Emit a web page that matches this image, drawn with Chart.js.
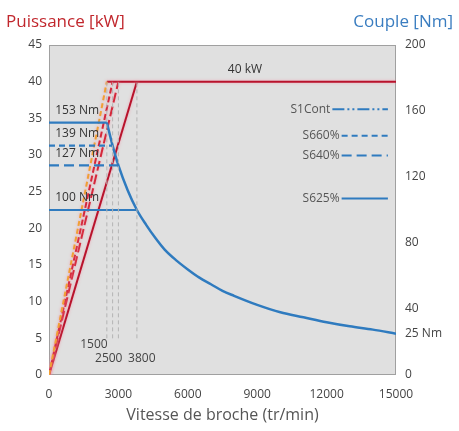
<!DOCTYPE html>
<html>
<head>
<meta charset="utf-8">
<script src="https://cdn.jsdelivr.net/npm/chart.js@4.4.1/dist/chart.umd.min.js"></script>
<style>
  body { margin: 0; background: #fff; }
  #wrap { width: 459px; height: 431px; }
</style>
</head>
<body>
<div id="wrap"><canvas id="courbe" width="459" height="431"></canvas></div>
<script>
// vitesses de base (tr/min) et couples (Nm) des différents services
const baseRpm = [2500, 2750, 3000, 3800];
const baseTorque = [153, 139, 127, 100];
const maxPower = 40;

// courbe à puissance constante
const hyperRpm = [2500, 2750, 3000, 3400, 3800, 4200, 4600, 5000, 5500, 6000, 6500, 7000, 7500, 8000, 9000, 10000, 11000, 12000, 13000, 14000, 15000];
const hyperTorque = [153, 139, 127, 112, 100, 91, 83, 76, 69.5, 64, 59, 55, 51, 48, 42.5, 38, 35, 32, 29.5, 27.5, 25];

const xTicks = [0, 3000, 6000, 9000, 12000, 15000];
const powerTicks = [0, 5, 10, 15, 20, 25, 30, 35, 40, 45];
const torqueTicks = [0, 40, 80, 120, 160, 200];

const legendNames = ['S1Cont', 'S660%', 'S640%', 'S625%'];
const legendTorque = [161, 145, 133, 107];

const BLUE = '#2f7bbf';
const RED = '#b8132c';
const FONT = '"Open Sans", "Noto Sans", sans-serif';

const torqueDash = [[], [6, 4], [10, 5], []];
const powerStyle = [
    { color: '#f0a035', dash: [5, 3] },
    { color: '#d4283b', dash: [6, 3] },
    { color: '#d4283b', dash: [10, 4] },
    { color: RED, dash: [] }
];
const legendDash = [[12, 3, 2, 3, 2, 3], [6, 4], [10, 5], []];

const datasets = [];

// lignes verticales grises
baseRpm.forEach(r => {
    datasets.push({
        data: [{ x: r, y: 5 }, { x: r, y: maxPower }],
        yAxisID: 'y', borderColor: '#b4b4b4', borderWidth: 1, borderDash: [4, 3],
        pointRadius: 0
    });
});

// couples (axe droit)
baseRpm.forEach((r, i) => {
    datasets.push({
        data: [{ x: 0, y: baseTorque[i] }, { x: r, y: baseTorque[i] }],
        yAxisID: 'y1', borderColor: BLUE, borderWidth: 2.2, borderDash: torqueDash[i],
        pointRadius: 0
    });
});
datasets.push({
    data: hyperRpm.map((r, i) => ({ x: r, y: hyperTorque[i] })),
    yAxisID: 'y1', borderColor: BLUE, borderWidth: 2.5, cubicInterpolationMode: 'monotone',
    pointRadius: 0
});

// puissances (axe gauche)
baseRpm.forEach((r, i) => {
    datasets.push({
        data: [{ x: 0, y: 0 }, { x: r, y: maxPower }],
        yAxisID: 'y', borderColor: powerStyle[i].color, borderWidth: 2, borderDash: powerStyle[i].dash,
        pointRadius: 0, glow: 'rgba(245,140,160,0.7)'
    });
});
datasets.push({
    data: [{ x: baseRpm[0], y: maxPower }, { x: 15000, y: maxPower }],
    yAxisID: 'y', borderColor: RED, borderWidth: 2, pointRadius: 0, glow: 'rgba(245,140,160,0.7)'
});

const glowPlugin = {
    id: 'glow',
    beforeDatasetDraw(chart, args) {
        const ds = chart.data.datasets[args.index];
        if (ds.glow) {
            chart.ctx.save();
            chart.ctx.shadowColor = ds.glow;
            chart.ctx.shadowBlur = 3;
        }
    },
    afterDatasetDraw(chart, args) {
        if (chart.data.datasets[args.index].glow) chart.ctx.restore();
    }
};

const decorPlugin = {
    id: 'decor',
    beforeDraw(chart) {
        const { ctx, chartArea: a } = chart;
        ctx.save();
        ctx.fillStyle = '#e0e0e0';
        ctx.fillRect(a.left, a.top, a.right - a.left, a.bottom - a.top);
        ctx.strokeStyle = '#a0a0a0';
        ctx.lineWidth = 1;
        ctx.strokeRect(a.left + 0.5, a.top + 0.5, a.right - a.left - 1, a.bottom - a.top - 1);
        ctx.restore();
    },
    afterDatasetsDraw(chart) {
        const { ctx, chartArea: a } = chart;
        const x = chart.scales.x, y = chart.scales.y, y1 = chart.scales.y1;
        ctx.save();
        ctx.textBaseline = 'middle';

        // titres
        ctx.font = '17px ' + FONT;
        ctx.fillStyle = '#c1272d';
        ctx.textAlign = 'left';
        ctx.fillText('Puissance [kW]', 6, 22);
        ctx.fillStyle = '#3a7dc0';
        ctx.textAlign = 'right';
        ctx.fillText('Couple [Nm]', 453, 22);
        ctx.fillStyle = '#555';
        ctx.font = '16px ' + FONT;
        ctx.textAlign = 'center';
        ctx.fillText('Vitesse de broche (tr/min)', (a.left + a.right) / 2, 415);

        // étiquettes dans le graphe
        ctx.font = '12px ' + FONT;
        ctx.fillStyle = '#333';
        ctx.fillText(maxPower + ' kW', x.getPixelForValue(8470), y.getPixelForValue(41.6));
        ctx.textAlign = 'left';
        baseTorque.forEach(t => {
            ctx.fillText(t + ' Nm', x.getPixelForValue(270), y1.getPixelForValue(t) - 12);
        });
        ctx.fillStyle = '#444';
        ctx.fillText('1500', x.getPixelForValue(1350), y.getPixelForValue(4.1));
        ctx.fillText('2500', x.getPixelForValue(1990), y.getPixelForValue(2.3));
        ctx.fillText('3800', x.getPixelForValue(3420), y.getPixelForValue(2.3));
        ctx.fillText(hyperTorque[hyperTorque.length - 1] + ' Nm', a.right + 9, y1.getPixelForValue(25));

        // légende des services
        legendNames.forEach((n, i) => {
            const ly = y1.getPixelForValue(legendTorque[i]);
            const x0 = x.getPixelForValue(i === 0 ? 12250 : 12650);
            ctx.fillStyle = '#555';
            ctx.textAlign = 'right';
            ctx.fillText(n, x0 - 2, ly);
            ctx.strokeStyle = BLUE;
            ctx.lineWidth = 2;
            ctx.setLineDash(legendDash[i]);
            ctx.beginPath();
            ctx.moveTo(x0, ly);
            ctx.lineTo(x.getPixelForValue(14650), ly);
            ctx.stroke();
        });
        ctx.restore();
    }
};

new Chart(document.getElementById('courbe'), {
    type: 'line',
    data: { datasets: datasets },
    plugins: [glowPlugin, decorPlugin],
    options: {
        responsive: false,
        animation: false,
        layout: { padding: { top: 45, left: 0, right: 0, bottom: 0 } },
        plugins: { legend: { display: false }, tooltip: { enabled: false } },
        scales: {
            x: {
                type: 'linear', min: 0, max: 15000,
                afterFit(s) { s.height = 56; },
                afterBuildTicks(s) { s.ticks = xTicks.map(v => ({ value: v })); },
                grid: { display: false, drawTicks: false },
                border: { display: false },
                ticks: { color: '#444', padding: 12, font: { size: 12, family: FONT }, maxRotation: 0,
                         callback: v => String(v) }
            },
            y: {
                position: 'left', min: 0, max: 45,
                afterFit(s) { s.width = 49; },
                afterBuildTicks(s) { s.ticks = powerTicks.map(v => ({ value: v })); },
                grid: { display: false, drawTicks: false },
                border: { display: false },
                ticks: { color: '#444', padding: 7, font: { size: 12, family: FONT } }
            },
            y1: {
                position: 'right', min: 0, max: 200,
                afterFit(s) { s.width = 63; },
                afterBuildTicks(s) { s.ticks = torqueTicks.map(v => ({ value: v })); },
                grid: { display: false, drawTicks: false },
                border: { display: false },
                ticks: { color: '#444', padding: 9, font: { size: 12, family: FONT } }
            }
        }
    }
});
</script>
</body>
</html>
